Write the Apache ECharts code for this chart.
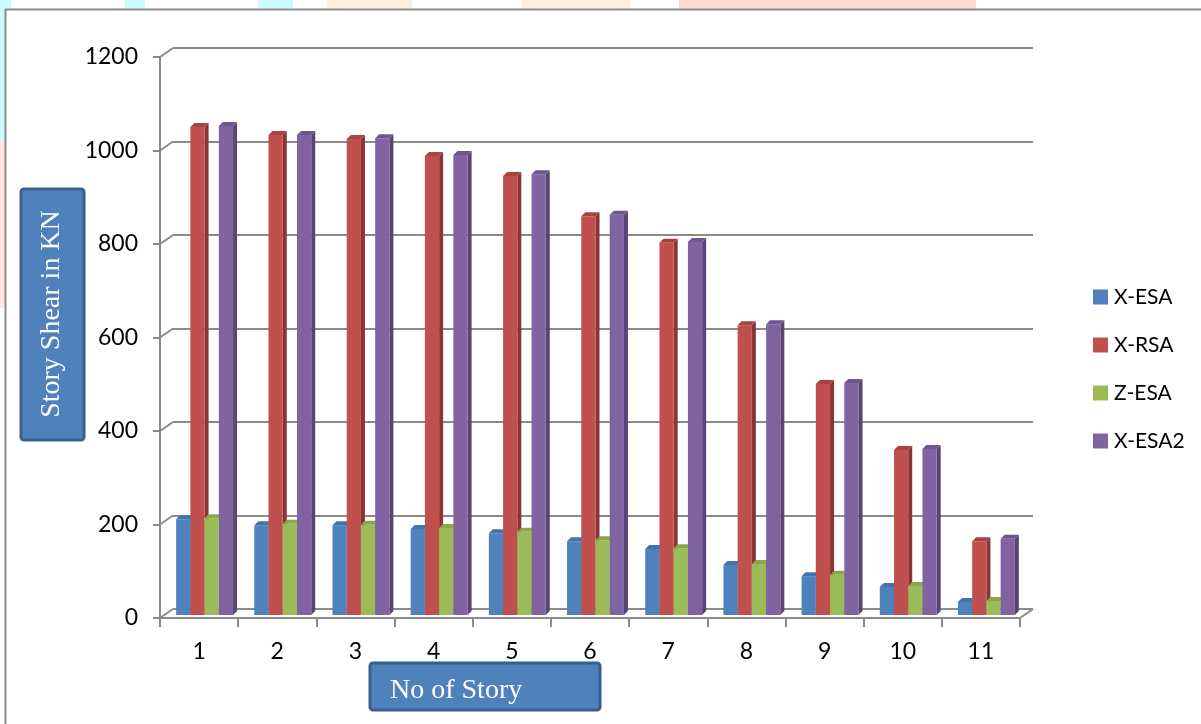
<!DOCTYPE html>
<html>
<head>
<meta charset="utf-8">
<title>Story Shear</title>
<script src="https://cdn.jsdelivr.net/npm/echarts@6/dist/echarts.min.js"></script>
<style>
  html, body { margin: 0; padding: 0; background: #ffffff; }
  #chart { width: 1201px; height: 724px; }
</style>
</head>
<body>
<div id="chart"></div>
<script>
// Story numbers and storey shear (kN) per analysis case
const stories = ['1', '2', '3', '4', '5', '6', '7', '8', '9', '10', '11'];
const xEsa  = [205, 192, 192, 184, 175, 158, 141, 107, 83, 60, 28];
const xRsa  = [1044, 1027, 1018, 982, 939, 853, 796, 620, 494, 353, 158];
const zEsa  = [207, 195, 193, 186, 178, 160, 143, 109, 86, 62, 30];
const xEsa2 = [1046, 1027, 1020, 984, 943, 856, 798, 622, 496, 355, 163];
const seriesNames = ['X-ESA', 'X-RSA', 'Z-ESA', 'X-ESA2'];
const yTicks = [0, 200, 400, 600, 800, 1000, 1200];

const palette = [
  { front: '#4f81bd', side: '#36598a', top: '#4373ab' },
  { front: '#c0504d', side: '#893533', top: '#a84340' },
  { front: '#9bbb59', side: '#6f883c', top: '#88a84a' },
  { front: '#8064a2', side: '#584574', top: '#6f5690' }
];

// depth of the 3-D look (px)
const WALL_DX = 13, WALL_DY = -9;   // front axis -> back wall
const BAR_DX = 5.5, BAR_DY = -3;    // front axis -> bar plane
const FACE = 4;                     // visible side / top thickness

const chart = echarts.init(document.getElementById('chart'), null, { renderer: 'canvas' });

function barSeries(k, values) {
  return {
    name: seriesNames[k],
    type: 'custom',
    xAxisIndex: 1,
    yAxisIndex: 1,
    z: 3,
    itemStyle: { color: palette[k].front },
    data: values.map((v, i) => [i, v]),
    encode: { x: 0, y: 1 },
    renderItem: function (params, api) {
      const i = api.value(0);
      const v = api.value(1);
      const band = api.size([1, 0])[0];
      const bw = band * 0.182;
      const c = api.coord([i, v]);
      const base = api.coord([i, 0]);
      const x = c[0] + BAR_DX - 2 * bw + k * bw;
      const yT = c[1] + BAR_DY;
      const yB = base[1] + BAR_DY;
      const d = FACE;
      return {
        type: 'group',
        children: [
          {
            type: 'polygon',
            shape: { points: [[x + bw, yT], [x + bw + d, yT - d], [x + bw + d, yB - d], [x + bw, yB]] },
            style: { fill: palette[k].side }
          },
          {
            type: 'rect',
            shape: { x: x, y: yT, width: bw, height: yB - yT },
            style: { fill: palette[k].front }
          },
          {
            type: 'polygon',
            shape: { points: [[x, yT], [x + d, yT - d], [x + bw + d, yT - d], [x + bw, yT]] },
            style: { fill: palette[k].top }
          }
        ]
      };
    }
  };
}

// oblique joins between the front axis and the back wall
const frameSeries = {
  type: 'custom',
  xAxisIndex: 1,
  yAxisIndex: 1,
  silent: true,
  z: 1,
  data: yTicks.map(v => [0, v]),
  encode: { y: 1 },
  renderItem: function (params, api) {
    const v = api.value(1);
    const cs = params.coordSys;
    const y = api.coord([0, v])[1];
    const left = cs.x, right = cs.x + cs.width;
    const lineStyle = { stroke: '#8a8a8a', lineWidth: 2 };
    const kids = [{
      type: 'line',
      shape: { x1: left, y1: y, x2: left + WALL_DX, y2: y + WALL_DY },
      style: lineStyle
    }];
    if (v === 0) {
      kids.push({
        type: 'line',
        shape: { x1: right, y1: y, x2: right + WALL_DX, y2: y + WALL_DY },
        style: lineStyle
      });
    }
    return { type: 'group', children: kids };
  }
};

const labelFont = { fontFamily: 'Lato, "Open Sans", sans-serif', fontSize: 23, color: '#000000' };

chart.setOption({
  animation: false,
  backgroundColor: '#ffffff',
  color: palette.map(p => p.front),
  grid: [
    // back wall
    { left: 173, top: 48, width: 860, height: 561 },
    // front axes
    { left: 160, top: 57, width: 860, height: 561 }
  ],
  xAxis: [
    { gridIndex: 0, type: 'category', data: stories, show: false },
    {
      gridIndex: 1, type: 'category', data: stories,
      axisLine: { lineStyle: { color: '#8a8a8a', width: 2 } },
      axisTick: { show: true, length: 9, lineStyle: { color: '#8a8a8a', width: 2 } },
      axisLabel: Object.assign({ margin: 22 }, labelFont),
      splitLine: { show: false }
    }
  ],
  yAxis: [
    {
      gridIndex: 0, type: 'value', min: 0, max: 1200, interval: 200,
      axisLine: { show: false }, axisTick: { show: false }, axisLabel: { show: false },
      splitLine: { show: true, lineStyle: { color: '#8a8a8a', width: 2 } }
    },
    {
      gridIndex: 1, type: 'value', min: 0, max: 1200, interval: 200,
      axisLine: { show: true, lineStyle: { color: '#8a8a8a', width: 2 } },
      axisTick: { show: true, length: 7, lineStyle: { color: '#8a8a8a', width: 2 } },
      axisLabel: Object.assign({ margin: 22, formatter: v => String(v) }, labelFont),
      splitLine: { show: false }
    }
  ],
  legend: {
    orient: 'vertical',
    left: 1088,
    top: 281,
    itemWidth: 15,
    itemHeight: 15,
    itemGap: 26,
    icon: 'rect',
    data: seriesNames,
    textStyle: { fontFamily: 'Lato, "Open Sans", sans-serif', fontSize: 21, lineHeight: 22, color: '#000000', padding: [0, 0, 0, 1] }
  },
  graphic: [
    // soft colour patches along the top and left edge of the page
    { type: 'rect', shape: { x: 0, y: 0, width: 11, height: 9 }, style: { fill: '#ccfdfd' }, silent: true },
    { type: 'rect', shape: { x: 125, y: 0, width: 20, height: 9 }, style: { fill: '#ccfdfd' }, silent: true },
    { type: 'rect', shape: { x: 258, y: 0, width: 35, height: 9 }, style: { fill: '#ccfdfd' }, silent: true },
    { type: 'rect', shape: { x: 327, y: 0, width: 85, height: 9 }, style: { fill: '#ffeedc' }, silent: true },
    { type: 'rect', shape: { x: 522, y: 0, width: 108, height: 9 }, style: { fill: '#ffeedc' }, silent: true },
    { type: 'rect', shape: { x: 679, y: 0, width: 297, height: 9 }, style: { fill: '#ffd8d0' }, silent: true },
    { type: 'rect', shape: { x: 0, y: 0, width: 5, height: 140 }, style: { fill: '#ccfdfd' }, silent: true },
    { type: 'rect', shape: { x: 0, y: 140, width: 5, height: 168 }, style: { fill: '#ffe6e6' }, silent: true },
    // page frame
    { type: 'line', shape: { x1: 5, y1: 9.5, x2: 1201, y2: 9.5 }, style: { stroke: '#8c8c8c', lineWidth: 2 }, silent: true },
    { type: 'line', shape: { x1: 5.5, y1: 9, x2: 5.5, y2: 724 }, style: { stroke: '#8c8c8c', lineWidth: 2 }, silent: true },
    // vertical axis title
    {
      type: 'group',
      children: [
        {
          type: 'rect',
          shape: { x: 21, y: 189, width: 63, height: 251, r: 3 },
          style: { fill: '#4f81bd', stroke: '#3a5f8d', lineWidth: 3 }
        },
        {
          type: 'text',
          x: 52, y: 314,
          rotation: Math.PI / 2,
          style: {
            text: 'Story Shear in KN',
            fill: '#ffffff',
            font: '28px "Liberation Serif", "DejaVu Serif", serif',
            align: 'center',
            verticalAlign: 'middle'
          }
        }
      ]
    },
    // horizontal axis title
    {
      type: 'group',
      children: [
        {
          type: 'rect',
          shape: { x: 370, y: 663, width: 230, height: 47, r: 3 },
          style: { fill: '#4f81bd', stroke: '#3a5f8d', lineWidth: 3 }
        },
        {
          type: 'text',
          x: 390, y: 691,
          style: {
            text: 'No of Story',
            fill: '#ffffff',
            font: '28px "Liberation Serif", "DejaVu Serif", serif',
            align: 'left',
            verticalAlign: 'middle'
          }
        }
      ]
    }
  ],
  series: [
    frameSeries,
    barSeries(0, xEsa),
    barSeries(1, xRsa),
    barSeries(2, zEsa),
    barSeries(3, xEsa2)
  ]
});
</script>
</body>
</html>
